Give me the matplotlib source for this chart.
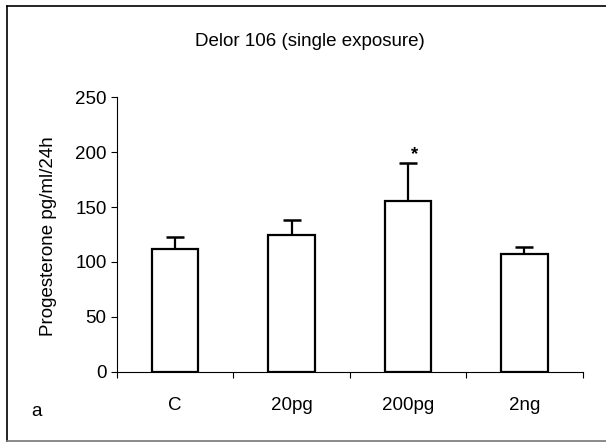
import matplotlib
matplotlib.use("Agg")
import matplotlib.pyplot as plt
from matplotlib.lines import Line2D
import numpy as np

categories = ["C", "20pg", "200pg", "2ng"]
means = [111.5, 124.5, 155.5, 107.0]
errors = [11.0, 13.5, 35.0, 7.0]
sig_marks = ["", "", "*", ""]
yticks = [0, 50, 100, 150, 200, 250]

plt.rcParams['font.family'] = ['Liberation Sans', 'DejaVu Sans']

W, H = 606, 442
FS = 13.5
fig = plt.figure(figsize=(W / 100, H / 100), dpi=100)
ax = fig.add_axes([117 / W, 1 - 371.8 / H, (582.5 - 117) / W, (371.8 - 97.3) / H])

x = np.arange(len(categories))
ax.bar(x, means, width=0.4, color="white", edgecolor="black", linewidth=1.6, zorder=2)
ax.errorbar(x, means, yerr=[np.zeros(len(errors)), errors], fmt="none",
            ecolor="black", elinewidth=1.6, capsize=6.5, capthick=1.8, zorder=1)
for xi, m, e, s in zip(x, means, errors, sig_marks):
    if s:
        ax.annotate(s, (xi, m + e), xytext=(4.5, 0), textcoords="offset points",
                    ha="center", va="bottom", fontsize=FS, fontweight="bold")

ax.set_xlim(-0.5, len(categories) - 0.5)
ax.set_ylim(0, 250)
ax.set_yticks(yticks)
ax.set_xticks(x)
ax.set_xticklabels(categories)
ax.set_xticks(np.arange(-0.5, len(categories), 1.0), minor=True)
ax.tick_params(axis="x", which="major", length=0, pad=18, labelsize=FS)
ax.tick_params(axis="x", which="minor", length=4.5, width=0.8, direction="out")
ax.tick_params(axis="y", length=4.5, width=0.8, pad=3, labelsize=FS)
for sp in ["top", "right"]:
    ax.spines[sp].set_visible(False)
for sp in ["left", "bottom"]:
    ax.spines[sp].set_linewidth(0.8)

ax.set_ylabel("Progesterone pg/ml/24h", fontsize=FS)
ax.yaxis.set_label_coords((57 - 117) / 465.5, 0.495)
fig.text(310 / W, 1 - 42 / H, "Delor 106 (single exposure)", ha="center", va="center", fontsize=FS)
fig.text(36 / W, 1 - 412 / H, "a", ha="center", va="center", fontsize=FS)

# frame
fig.add_artist(Line2D([6.5 / W, 1.0], [1 - 5.5 / H, 1 - 5.5 / H], color="black", linewidth=1.2))
fig.add_artist(Line2D([6.5 / W, 6.5 / W], [1 - 5.5 / H, 1 - 441 / H], color="black", linewidth=1.2))
fig.add_artist(Line2D([6.5 / W, 1.0], [1 - 441 / H, 1 - 441 / H], color="#777777", linewidth=1.2))

fig.savefig("out.png", dpi=100)
